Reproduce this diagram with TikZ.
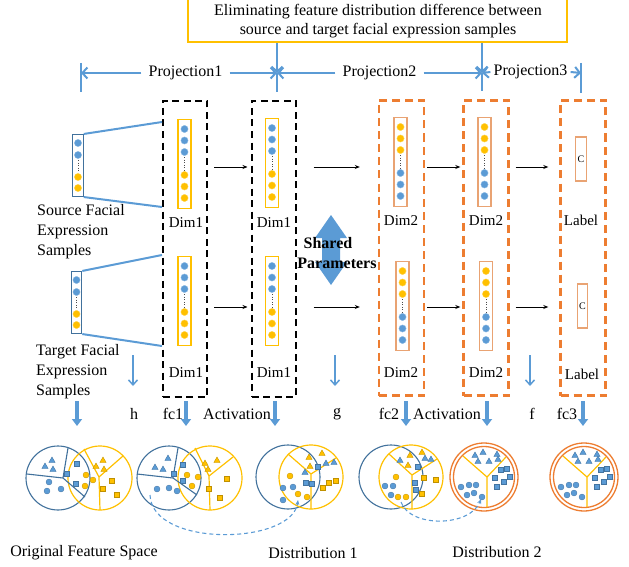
\documentclass[tikz,border=0pt]{standalone}
\usepackage{fontspec}
\setmainfont{Liberation Serif}
\usetikzlibrary{arrows.meta,calc}
\definecolor{cblue}{HTML}{5B9BD5}
\definecolor{dblue}{HTML}{41719C}
\definecolor{cyel}{HTML}{FFC000}
\definecolor{corg}{HTML}{ED7D31}
\definecolor{lorg}{HTML}{E9A373}
\newcommand\CDot[3]{\filldraw[fill=#1,draw=#1!75!black,line width=0.3pt] (#2,#3) circle (3pt);}
\newcommand\CTri[3]{\filldraw[fill=#1,draw=#1!75!black,line width=0.3pt] (#2,#3) ++(0,-3.1) -- ++(3.2,5.6) -- ++(-6.4,0) -- cycle;}
\newcommand\CSq[3]{\filldraw[fill=#1,draw=#1!75!black,line width=0.3pt] (#2-2.5,#3-2.5) rectangle ++(5,5);}
% inner column: name, x, y of first circle, top colour, bottom colour, frame colour
\newcommand\ColSix[6]{%
  \node[draw=#6,line width=1.1pt,minimum width=13pt,minimum height=89pt] (#1) at (#2,#3+35) {};
  \foreach \d in {0,11.5,23} {\filldraw[fill=#4,draw=#4!70!white,line width=0.4pt] (#2,#3+\d) circle (3.6pt);}
  \foreach \d in {46,57.5,69} {\filldraw[fill=#5,draw=#5!70!white,line width=0.4pt] (#2,#3+\d) circle (3.6pt);}
  \draw[black!70,line width=0.8pt,dash pattern=on 0.8pt off 1.8pt] (#2,#3+28) -- (#2,#3+42);}
\newcommand\ColFour[3]{%
  \node[draw=dblue,line width=1.1pt,minimum width=10.5pt,minimum height=62pt] (#1) at (#2,#3+22.5) {};
  \foreach \d in {0,12} {\filldraw[fill=cblue,draw=cblue!70!white,line width=0.4pt] (#2,#3+\d) circle (3.6pt);}
  \foreach \d in {34,45} {\filldraw[fill=cyel,draw=cyel!70!white,line width=0.4pt] (#2,#3+\d) circle (3.6pt);}
  \draw[black!70,line width=0.8pt,dash pattern=on 0.8pt off 1.8pt] (#2,#3+17) -- (#2,#3+29);}
\begin{document}
\begin{tikzpicture}[x=1pt,y=-1pt,
  every node/.style={font=\fontsize{16}{20}\selectfont,inner sep=0pt},
  dbox/.style={draw=black,line width=2pt,dash pattern=on 7pt off 4.5pt,minimum width=44pt,minimum height=296pt},
  obox/.style={draw=corg,line width=2.4pt,dash pattern=on 8pt off 5pt,minimum width=45pt,minimum height=295pt},
  parr/.style={cblue,line width=2pt,-{Straight Barb[length=5pt,width=11pt]}},
  pline/.style={cblue,line width=2pt},
  barr/.style={black,line width=1pt,-{Stealth[length=5pt,width=4pt]}},
  tarr/.style={cblue,line width=1.5pt,-{Straight Barb[length=5pt,width=9pt]}},
  karr/.style={cblue,line width=4pt,-{Triangle[length=7pt,width=10pt]}},
  carr/.style={cblue,line width=1.1pt,dash pattern=on 4pt off 3pt,-{Stealth[length=5pt,width=4pt]}},
  bc/.style={draw=dblue,line width=1.1pt},
  yc/.style={draw=cyel,line width=1.2pt},
  oc/.style={draw=corg,line width=1.3pt},
  dimlab/.style={font=\fontsize{15}{18}\selectfont}]
\useasboundingbox (0,0) rectangle (629,567);

% goal box
\node[draw=cyel,line width=2.5pt,minimum width=379pt,minimum height=47pt] (goal) at (377.5,18.5) {};
\node[align=center,font=\fontsize{16}{19}\selectfont] (goaltxt) at (378,21.5)
  {Eliminating feature distribution difference between\\source and target facial expression samples};

% projection row
\coordinate (p0) at (81,73);
\coordinate (p1) at (277,73);
\coordinate (p2) at (482,73);
\coordinate (p3) at (581,73);
\node[inner xsep=7pt] (P1) at (185.5,73) {Projection1};
\node[inner xsep=7pt] (P2) at (379.5,73) {Projection2};
\node[inner xsep=3pt] (P3) at (530.5,72) {Projection3};
\draw[pline] ([yshift=10pt]p0) -- ([yshift=-19pt]p0);
\draw[pline] (p3 |- 0,63) -- (p3 |- 0,93);
\draw[parr] (goal.south -| p1) -- (p1);
\draw[pline] (p1) -- (p1 |- 0,92);
\draw[parr] (goal.south -| p2) -- (p2);
\draw[pline] (p2) -- (p2 |- 0,91);
\draw[parr] (P1.west) -- (p0);
\draw[parr] (P1.east) -- (p1);
\draw[parr] (P2.west) -- (p1);
\draw[parr] (P2.east) -- (p2);
\draw[parr] (P3.west) -- (p2);
\draw[parr] (P3.east) -- (p3);

% dashed boxes
\node[dbox] (B1) at (185,249) {};
\node[dbox] (B2) at (273.5,249) {};
\node[obox] (O1) at (401.5,248) {};
\node[obox] (O2) at (486,248) {};
\node[obox] (O3) at (583,248) {};

% input columns
\ColFour{src}{78}{143}
\ColFour{tgt}{76.5}{280}
\draw[pline] (src.north east) -- ($(B1.north west)+(0,22)$);
\draw[pline] (src.south east) -- ($(B1.north west)+(0,107)$);
\draw[pline] (tgt.north east) -- ($(B1.north west)+(0,155)$);
\draw[pline] (tgt.south east) -- ($(B1.north west)+(0,246)$);
\node[align=left,anchor=west] (srclab) at (37,232) {Source Facial\\Expression\\Samples};
\node[align=left,anchor=west] (tgtlab) at (36,372) {Target Facial\\Expression\\Samples};

% Dim columns
\ColSix{a1}{184.5}{129}{cblue}{cyel}{cyel}
\ColSix{a2}{184.5}{266}{cblue}{cyel}{cyel}
\ColSix{b1}{272}{128}{cblue}{cyel}{cyel}
\ColSix{b2}{272}{266}{cblue}{cyel}{cyel}
\ColSix{c1}{400.5}{127}{cyel}{cblue}{lorg}
\ColSix{c2}{402.5}{271}{cyel}{cblue}{lorg}
\ColSix{d1}{484.5}{127}{cyel}{cblue}{lorg}
\ColSix{d2}{486}{271}{cyel}{cblue}{lorg}
\node[draw=lorg,line width=1.1pt,minimum width=10.5pt,minimum height=44pt,font=\fontsize{10}{12}\selectfont] (e1) at (581,159) {C};
\node[draw=lorg,line width=1.1pt,minimum width=10.5pt,minimum height=44pt,font=\fontsize{10}{12}\selectfont] (e2) at (582.5,306) {C};

\node[dimlab] at (186,223) {Dim1};
\node[dimlab] at (186,373) {Dim1};
\node[dimlab] at (274,223) {Dim1};
\node[dimlab] at (274,373) {Dim1};
\node[dimlab] at (401,221) {Dim2};
\node[dimlab] at (401,373) {Dim2};
\node[dimlab] at (486,221) {Dim2};
\node[dimlab] at (486,373) {Dim2};
\node[dimlab] at (581,220) {Label};
\node[dimlab] at (582,374) {Label};

% black arrows
\coordinate (rowA) at (0,167);
\coordinate (rowB) at (0,307);
\foreach \r in {rowA,rowB} {
  \draw[barr] ([xshift=6pt]B1.east |- \r) -- ([xshift=-3pt]B2.west |- \r);
  \draw[barr] ([xshift=17pt]B2.east |- \r) -- ([xshift=-18pt]O1.west |- \r);
  \draw[barr] ([xshift=2pt]O1.east |- \r) -- ([xshift=-2pt]O2.west |- \r);
  \draw[barr] ([xshift=6pt]O2.east |- \r) -- ([xshift=-11pt]O3.west |- \r);
}

% shared parameters
\fill[cblue] (331,215) -- (347,238) -- (340,238) -- (340,262) -- (347,262) -- (331,285)
  -- (315,262) -- (322,262) -- (322,238) -- (315,238) -- cycle;
\node[font=\bfseries\fontsize{16}{20}\selectfont] (sh1) at (328,243) {Shared};
\node[font=\bfseries\fontsize{16}{20}\selectfont] (sh2) at (337,263) {Parameters};

% thin blue arrows
\foreach \x in {133,335,530} {\draw[tarr] (\x,355) -- (\x,386);}

% thick arrows and labels
\foreach \x in {77,186,275,406,487,583} {\draw[karr] (\x,401) -- (\x,426);}
\node (h) at (134,414) {h};
\node (fc1) at (173,414) {fc1};
\node (act1) at (237,414) {Activation};
\node (g) at (337,414) {g};
\node (fc2) at (389,414) {fc2};
\node (act2) at (447,414) {Activation};
\node (f) at (532,414) {f};
\node (fc3) at (567,414) {fc3};

% ---- pair 1
\draw[bc] (58,478) circle (32pt);
\draw[yc] (100,478) circle (32pt);
\draw[bc] (27,474) -- (63,478) -- (68,448) (63,478) -- (85,497);
\draw[yc] (84,449) -- (99,477) -- (123,456) (99,477) -- (100,510);
\CTri{cblue}{45}{466}\CTri{cblue}{52}{460}\CTri{cblue}{53}{469}
\CDot{cblue}{49}{482}\CDot{cblue}{47}{491}\CDot{cblue}{61}{489}
\CSq{cblue}{77}{464}\CSq{cblue}{67}{474}\CSq{cblue}{76}{484}
\CDot{cyel}{86}{475}\CDot{cyel}{85}{486}\CDot{cyel}{93}{480}
\CTri{cyel}{96}{466}\CTri{cyel}{103}{460}\CTri{cyel}{104}{469}
\CSq{cyel}{103}{489}\CSq{cyel}{112}{481}\CSq{cyel}{117}{495}

% ---- pair 2
\draw[bc] (169,478) circle (32pt);
\draw[yc] (210,478) circle (32pt);
\draw[bc] (137,474) -- (173,478) -- (178,448) (173,478) -- (197,495);
\draw[yc] (195,448) -- (209,476) -- (233,457) (209,476) -- (210,510);
\CTri{cblue}{155}{467}\CTri{cblue}{163}{469}\CTri{cblue}{168}{458}
\CDot{cblue}{157}{489}\CDot{cblue}{169}{488}\CDot{cblue}{177}{491}
\CSq{cblue}{183}{465}\CSq{cblue}{174}{474}\CSq{cblue}{183}{481}
\CDot{cyel}{187}{475}\CDot{cyel}{198}{477}\CDot{cyel}{192}{486}
\CTri{cyel}{205}{463}\CTri{cyel}{208}{469}\CTri{cyel}{217}{460}
\CSq{cyel}{227}{479}\CSq{cyel}{209}{489}\CSq{cyel}{220}{498}

% ---- pair 3
\draw[bc] (288,477) circle (32pt);
\draw[yc] (311,477) circle (32pt);
\draw[yc] (288,454) -- (311,474) -- (336,458) (311,474) -- (311,509);
\CDot{cyel}{290}{476}\CDot{cyel}{298}{494}\CDot{cyel}{307}{497}
\CDot{cblue}{283}{488}\CDot{cblue}{293}{487}\CDot{cblue}{283}{500}
\CTri{cblue}{305}{472}\CTri{cblue}{326}{463}\CTri{cblue}{334}{462}
\CTri{cyel}{309}{457}\CTri{cyel}{322}{453}\CTri{cyel}{310}{466}
\CSq{cblue}{318}{467}\CSq{cblue}{306}{483}\CSq{cblue}{312}{484}
\CSq{cyel}{323}{488}\CSq{cyel}{329}{483}\CSq{cyel}{336}{481}

% ---- pair 4
\draw[bc] (391,477) circle (32pt);
\draw[yc] (411,477) circle (32pt);
\draw[yc] (389,454) -- (412,475) -- (437,459) (412,475) -- (412,509);
\CDot{cyel}{396}{477}\CDot{cyel}{398}{497}\CDot{cyel}{406}{497}
\CDot{cblue}{385}{486}\CDot{cblue}{393}{486}\CDot{cblue}{391}{495}
\CTri{cyel}{410}{455}\CTri{cyel}{422}{452}\CTri{cyel}{408}{465}
\CTri{cblue}{425}{458}\CTri{cblue}{431}{459}\CTri{cblue}{400}{460}
\CSq{cblue}{418}{467}\CSq{cblue}{415}{483}\CSq{cblue}{416}{490}
\CSq{cyel}{424}{478}\CSq{cyel}{422}{494}\CSq{cyel}{436}{480}

% ---- circles 5 and 6
\foreach \cx in {484,584} {
\begin{scope}[shift={(\cx,477)}]
  \draw[oc] (0,0) circle (34pt);
  \draw[oc] (0,0) circle (30.5pt);
  \draw[yc] (-21,-21) -- (3,0) -- (22,-20) (3,0) -- (3,30);
  \CTri{cblue}{-9}{-22}\CTri{cblue}{-1}{-25}\CTri{cblue}{13}{-23}
  \CTri{cblue}{-6}{-16}\CTri{cblue}{5}{-16}\CTri{cblue}{14}{-18}
  \CSq{cblue}{11}{1}\CSq{cblue}{17}{-7}\CSq{cblue}{23}{-8}
  \CSq{cblue}{20}{5}\CSq{cblue}{26}{0}\CSq{cblue}{13}{10}
  \CDot{cblue}{-23}{10}\CDot{cblue}{-15}{8}\CDot{cblue}{-8}{8}
  \CDot{cblue}{-17}{18}\CDot{cblue}{-10}{16}\CDot{cblue}{-2}{20}
\end{scope}}

% dashed curves
\coordinate (cu1s) at (150,495);
\coordinate (cu1e) at (298,500);
\coordinate (cu2s) at (401,502);
\coordinate (cu2e) at (481,499);
\draw[carr] (cu1s) .. controls (152,548) and (292,545) .. (cu1e);
\draw[carr] (cu2s) .. controls (410,528) and (470,527) .. (cu2e);

% bottom labels
\node (lab1) at (84,553) {Original Feature Space};
\node (lab2) at (313,553) {Distribution 1};
\node (lab3) at (497,552) {Distribution 2};
\end{tikzpicture}
\end{document}
